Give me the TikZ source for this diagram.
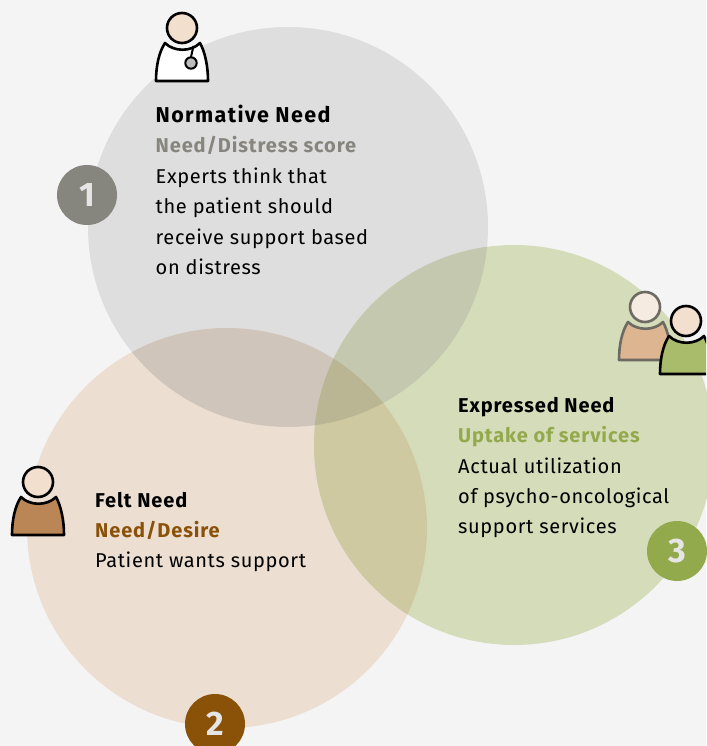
\documentclass[tikz,border=0pt]{standalone}
\usepackage{fontspec}
\setmainfont[LetterSpace=3.2,Ligatures=NoCommon]{Fira Sans}
\newfontfamily\boldtitle[LetterSpace=4.5,Ligatures=NoCommon]{Fira Sans}
\newfontfamily\bigtitle[LetterSpace=6.3,Ligatures=NoCommon]{Fira Sans}
\definecolor{bgc}{HTML}{F4F4F4}
\definecolor{cA}{HTML}{DEDEDE}
\definecolor{cB}{HTML}{ECDFD2}
\definecolor{cC}{HTML}{D5DCBA}
\definecolor{cAB}{HTML}{D0C5BA}
\definecolor{cAC}{HTML}{C3C8AE}
\definecolor{cBC}{HTML}{CEC9A0}
\definecolor{cABC}{HTML}{BAB592}
\definecolor{badgeA}{HTML}{86857E}
\definecolor{badgeB}{HTML}{8A5209}
\definecolor{badgeC}{HTML}{93AA4C}
\definecolor{skin}{HTML}{F2DFCD}
\definecolor{skinG}{HTML}{F6EBE0}
\definecolor{bodyB}{HTML}{BB8655}
\definecolor{bodyT}{HTML}{DDB591}
\definecolor{bodyG}{HTML}{A9BC6C}
\definecolor{lineG}{HTML}{6C6A62}
\definecolor{steth}{HTML}{BDBDBD}
\definecolor{txtG}{HTML}{86857E}
\definecolor{txtB}{HTML}{8A5209}
\definecolor{txtC}{HTML}{93AA4C}
\tikzset{x=1pt,y=-1pt,
 txt/.style={anchor=base west,inner sep=0pt,font=\fontsize{20}{24}\selectfont,text=black},
 ttl/.style={txt,font=\boldtitle\fontsize{20}{24}\selectfont\bfseries},
 bigttl/.style={txt,font=\bigtitle\fontsize{21.5}{24}\selectfont\bfseries},
 badge/.style={circle,minimum size=60pt,inner sep=0pt,text=white!90!black,font=\fontsize{34}{36}\selectfont\bfseries},
 pline/.style={line width=2.6pt,line join=round}}
\tikzset{
 person/.pic={
  \path[pline,draw=\pgfkeysvalueof{/tikz/pl},fill=\pgfkeysvalueof{/tikz/pb}] (-17,15) .. controls (-8,24) and (9,24) .. (18,15) .. controls (23,24) and (26,38) .. (26,53) -- (-26,53) .. controls (-26,38) and (-23,24) .. (-17,15) -- cycle;
  \path[pline,draw=\pgfkeysvalueof{/tikz/pl},fill=\pgfkeysvalueof{/tikz/ph}] (0,0) circle[radius=15];
 },
 pl/.initial=black, pb/.initial=white, ph/.initial=skin}
\begin{document}
\begin{tikzpicture}
\useasboundingbox (0,0) rectangle (706,746);
\fill[bgc] (0,0) rectangle (706,746);
\def\ca{(288,227) circle[radius=200]}
\def\cb{(227,528) circle[radius=200]}
\def\cc{(514,445) circle[radius=200]}
\fill[cA] \ca; \fill[cB] \cb; \fill[cC] \cc;
\begin{scope}\clip \ca; \fill[cAB] \cb; \end{scope}
\begin{scope}\clip \ca; \fill[cAC] \cc; \end{scope}
\begin{scope}\clip \cb; \fill[cBC] \cc; \end{scope}
\begin{scope}\clip \ca; \clip \cb; \fill[cABC] \cc; \end{scope}
\node[badge,fill=badgeA] (b1) at (87,195) {1};
\node[badge,fill=badgeB] (b2) at (215,724) {2};
\node[badge,fill=badgeC] (b3) at (677,551) {3};
% people
\pic at (182,28) {person};
\draw[line width=2pt] (193.5,46) -- (191,57);
\draw[line width=2pt,fill=steth] (191,63) circle[radius=5.7];
\pic[pb=bodyB] at (38,482) {person};
\begin{scope}
\clip (0,0) rectangle (706,746);
\pic[pl=lineG,pb=bodyT,ph=skinG] at (645,307) {person};
\pic[pb=bodyG] at (686,321) {person};
\end{scope}
% texts
\node[bigttl] (n1) at (155.5,123) {Normative Need};
\node[ttl,text=txtG] (n2) at (155.5,153) {Need/Distress score};
\node[txt] (n3) at (155.5,183) {Experts think that};
\node[txt] (n4) at (155.5,213) {the patient should};
\node[txt] (n5) at (155.5,244) {receive support based};
\node[txt] (n6) at (155.5,274) {on distress};
\node[ttl] (f1) at (95,507) {Felt Need};
\node[ttl,text=txtB] (f2) at (95,537) {Need/Desire};
\node[txt] (f3) at (95,567) {Patient wants support};
\node[ttl] (e1) at (458,412) {Expressed Need};
\node[ttl,text=txtC] (e2) at (458,442) {Uptake of services};
\node[txt] (e3) at (458,473) {Actual utilization};
\node[txt] (e4) at (458,503) {of psycho-oncological};
\node[txt] (e5) at (458,533) {support services};
\end{tikzpicture}
\end{document}
